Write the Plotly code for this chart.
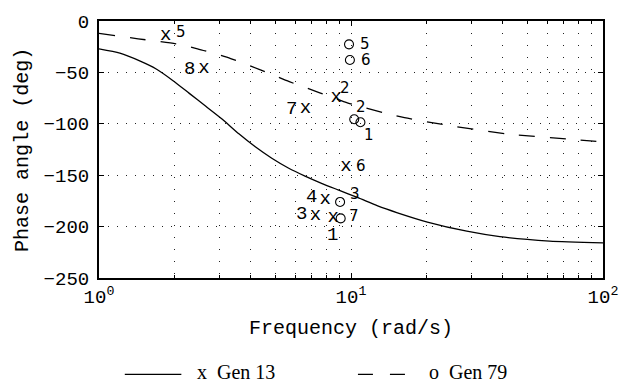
import plotly.graph_objects as go
import numpy as np

# Phase response curves (frequency in rad/s, phase in degrees)
gen13_freq = [1.0, 1.21, 1.45, 1.687, 1.961, 2.282, 2.654, 3.086, 3.59, 4.17, 4.85,
              5.64, 6.57, 7.64, 8.89, 10.66, 12.76, 15.29, 20.1, 28.8, 38.95, 61.4, 100.0]
gen13_phase = [-27.2, -31.3, -38.8, -46.7, -57.8, -70.4, -83.0, -95.6, -109.8, -122.4,
               -133.5, -143.0, -150.9, -157.9, -164.3, -171.9, -179.9, -186.6, -195.6,
               -204.5, -209.8, -214.1, -215.9]

gen79_freq = [1.0, 1.43, 2.02, 2.46, 3.33, 4.37, 5.69, 7.47, 9.73, 13.5, 16.3, 24.0,
              41.6, 71.5, 100.0]
gen79_phase = [-12.0, -17.3, -22.3, -27.0, -36.5, -47.5, -59.0, -69.6, -79.8, -89.3,
               -94.1, -101.3, -109.9, -114.6, -117.7]

# Mode locations for each generator
gen13_mode = [5, 8, 7, 2, 6, 4, 3, 1]
gen13_mode_freq = [1.84, 2.61, 6.59, 8.73, 9.55, 7.9, 7.22, 8.5]
gen13_mode_phase = [-14.2, -46.4, -85.2, -73.9, -141.0, -173.3, -188.5, -191.3]

gen79_mode = [5, 6, 2, 1, 3, 7]
gen79_mode_freq = [9.82, 9.9, 10.3, 10.9, 9.05, 9.1]
gen79_mode_phase = [-22.7, -37.9, -95.6, -98.5, -176.0, -192.0]

x_tickvals = [1, 10, 100]
x_ticktext = ["10<sup>0</sup>", "10<sup>1</sup>", "10<sup>2</sup>"]
x_minorvals = [2, 3, 4, 5, 6, 7, 8, 9, 20, 30, 40, 50, 60, 70, 80, 90]
y_tickvals = [0, -50, -100, -150, -200, -250]

MONO = "Liberation Mono, Courier New, monospace"
SANS = "DejaVu Sans, Arial, sans-serif"
SERIF = "Liberation Serif, Times New Roman, serif"

# label offsets (px) and font per mode number
gen13_label_style = {
    5: (15, 4, SANS, 15), 8: (-14, 0, MONO, 19), 7: (-14, 0, MONO, 19),
    2: (9, 9, SANS, 15), 6: (15, 0, SANS, 15), 4: (-14, 2, MONO, 19),
    3: (-14, 1, MONO, 19), 1: (-1, -17, MONO, 19),
}
gen79_label_style = {
    5: (16, 0, SANS, 15), 6: (16, 0, SANS, 15), 2: (7, 12, SANS, 15),
    1: (9, -13, SANS, 15), 3: (15, 8, SANS, 15), 7: (13, 2, SANS, 15),
}

fig = go.Figure()

fig.add_trace(go.Scatter(x=gen13_freq, y=gen13_phase, mode="lines",
                         line=dict(color="black", width=1.3, shape="spline", smoothing=0.6),
                         showlegend=False, hoverinfo="skip"))
fig.add_trace(go.Scatter(x=gen79_freq, y=gen79_phase, mode="lines",
                         line=dict(color="black", width=1.3, shape="spline", smoothing=0.6,
                                   dash="16px,15px"),
                         showlegend=False, hoverinfo="skip"))

fig.add_trace(go.Scatter(x=gen13_mode_freq, y=gen13_mode_phase, mode="text",
                         text=["x"] * len(gen13_mode),
                         textfont=dict(family=MONO, size=19, color="black"),
                         textposition="middle center", showlegend=False))
fig.add_trace(go.Scatter(x=gen79_mode_freq, y=gen79_mode_phase, mode="markers",
                         marker=dict(symbol="circle-open", size=9, color="black",
                                     line=dict(width=1.1, color="black")),
                         showlegend=False))

annotations = []
for m, f, p in zip(gen13_mode, gen13_mode_freq, gen13_mode_phase):
    dx, dy, fam, sz = gen13_label_style[m]
    annotations.append(dict(x=np.log10(f), y=p, xref="x", yref="y", text=str(m),
                            showarrow=False, xshift=dx, yshift=dy,
                            font=dict(family=fam, size=sz, color="black")))
for m, f, p in zip(gen79_mode, gen79_mode_freq, gen79_mode_phase):
    dx, dy, fam, sz = gen79_label_style[m]
    annotations.append(dict(x=np.log10(f), y=p, xref="x", yref="y", text=str(m),
                            showarrow=False, xshift=dx, yshift=dy,
                            font=dict(family=fam, size=sz, color="black")))

# axis titles
annotations.append(dict(x=-0.152, y=0.5, xref="paper", yref="paper",
                        text="Phase angle (deg)", textangle=-90, showarrow=False,
                        xanchor="center", yanchor="middle",
                        font=dict(family=MONO, size=20, color="black")))
annotations.append(dict(x=0.5, y=-0.197, xref="paper", yref="paper",
                        text="Frequency (rad/s)", showarrow=False,
                        xanchor="center", yanchor="middle",
                        font=dict(family=MONO, size=20, color="black")))

# legend entries drawn below the axes
def px_x(px):
    return (px - 99) / 508.0

def px_y(py):
    return (278 - py) / 264.0

leg_y = px_y(377)
shapes = [
    dict(type="line", xref="paper", yref="paper", x0=px_x(125), x1=px_x(182),
         y0=leg_y, y1=leg_y, line=dict(color="black", width=1.2)),
    dict(type="line", xref="paper", yref="paper", x0=px_x(360), x1=px_x(408),
         y0=leg_y, y1=leg_y, line=dict(color="black", width=1.2, dash="15px,17px")),
]
annotations.append(dict(x=px_x(196), y=px_y(375), xref="paper", yref="paper",
                        text="x  Gen 13", showarrow=False, xanchor="left", yanchor="middle",
                        font=dict(family=SERIF, size=20, color="black")))
annotations.append(dict(x=px_x(430), y=px_y(375), xref="paper", yref="paper",
                        text="o  Gen 79", showarrow=False, xanchor="left", yanchor="middle",
                        font=dict(family=SERIF, size=20, color="black")))

fig.update_layout(
    width=630, height=390,
    margin=dict(l=99, r=23, t=14, b=112),
    paper_bgcolor="white", plot_bgcolor="white",
    showlegend=False,
    shapes=shapes,
    annotations=annotations,
    xaxis=dict(type="log", range=[0, 2], tickvals=x_tickvals, ticktext=x_ticktext,
               ticks="inside", ticklen=5, tickcolor="black", tickwidth=1,
               showline=True, linecolor="black", linewidth=2, mirror="allticks",
               showgrid=True, gridcolor="#222", gridwidth=1, griddash="1px,11px",
               zeroline=False,
               tickfont=dict(family=MONO, size=19, color="black"),
               minor=dict(tickvals=x_minorvals,
                          ticks="inside", ticklen=3, tickcolor="black",
                          showgrid=True, gridcolor="#222", gridwidth=1, griddash="1px,11px")),
    yaxis=dict(range=[-250, 0], tickvals=y_tickvals,
               ticks="inside", ticklen=5, tickcolor="black", tickwidth=1,
               showline=True, linecolor="black", linewidth=2, mirror="allticks",
               showgrid=True, gridcolor="#222", gridwidth=1, griddash="1px,8px",
               zeroline=False, ticklabelstandoff=4,
               tickfont=dict(family=MONO, size=19, color="black")),
)

fig.write_html("out.html")
